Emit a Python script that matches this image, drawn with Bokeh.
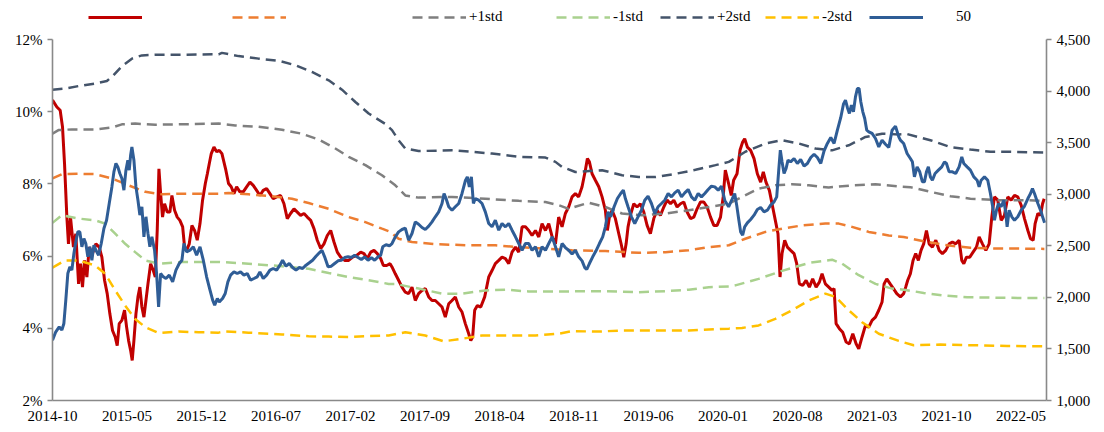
from bokeh.plotting import figure
from bokeh.layouts import column
from bokeh.models import (Range1d, LinearAxis, FixedTicker, PrintfTickFormatter,
                          NumeralTickFormatter, Legend, LegendItem)
from bokeh.embed import file_html
from bokeh.resources import INLINE

# x positions are months since 2014-10
tick_months = [0, 7, 14, 21, 28, 35, 42, 49, 56, 63, 70, 77, 84, 91]
tick_labels = ["2014-10", "2015-05", "2015-12", "2016-07", "2017-02", "2017-09", "2018-04",
               "2018-11", "2019-06", "2020-01", "2020-08", "2021-03", "2021-10", "2022-05"]

# red series (left axis, %)
red_t = [0, 0.41, 0.72, 0.94, 1.13, 1.35, 1.5, 1.69, 1.97, 2.19, 2.45, 2.63, 2.82, 3.01, 3.23, 3.45,
         3.76, 4.08, 4.39, 4.64, 4.89, 5.14, 5.39, 5.64, 5.89, 6.08, 6.27, 6.52, 6.77, 6.96, 7.15,
         7.34, 7.49, 7.65, 7.84, 8.03, 8.21, 8.4, 8.59, 8.78, 8.97, 9.22, 9.47, 9.66, 9.84, 10.0,
         10.16, 10.34, 10.53, 10.78, 11.03, 11.22, 11.47, 11.72, 11.97, 12.23, 12.41, 12.6, 12.85,
         13.1, 13.35, 13.6, 13.86, 14.1, 14.36, 14.55, 14.73, 14.92, 15.17, 15.42, 15.67, 15.92,
         16.29, 16.54, 16.79, 17.05, 17.3, 17.61, 17.92, 18.24, 18.55, 18.86, 19.18, 19.49, 19.8,
         20.12, 20.43, 20.74, 21.06, 21.43, 21.75, 22.06, 22.37, 22.69, 23.0, 23.31, 23.63, 23.94,
         24.26, 24.57, 24.88, 25.2, 25.51, 25.82, 26.14, 26.45, 26.76, 27.08, 27.45, 27.83, 28.2,
         28.58, 28.96, 29.27, 29.58, 29.9, 30.21, 30.52, 30.84, 31.09, 31.4, 31.72, 31.9, 32.21,
         32.52, 32.84, 33.15, 33.46, 33.78, 34.09, 34.4, 34.72, 35.03, 35.35, 35.66, 35.97, 36.29,
         36.6, 36.91, 37.23, 37.54, 37.85, 38.17, 38.48, 38.79, 39.11, 39.3, 39.48, 39.67, 39.92,
         40.24, 40.61, 40.99, 41.3, 41.61, 41.93, 42.24, 42.56, 42.87, 43.18, 43.5, 43.81, 44.12,
         44.44, 44.75, 45.06, 45.38, 45.69, 46.0, 46.32, 46.63, 46.95, 47.26, 47.56, 47.88, 48.19,
         48.5, 48.82, 49.13, 49.44, 49.76, 50.07, 50.26, 50.45, 50.7, 51.01, 51.33, 51.64, 51.95,
         52.14, 52.33, 52.58, 52.89, 53.21, 53.46, 53.68, 53.9, 54.08, 54.3, 54.62, 54.93, 55.24,
         55.56, 55.87, 56.18, 56.5, 56.81, 57.12, 57.44, 57.75, 58.07, 58.38, 58.69, 59.01, 59.32,
         59.63, 59.95, 60.26, 60.57, 60.89, 61.2, 61.51, 61.83, 62.14, 62.45, 62.77, 63.02, 63.22,
         63.53, 63.78, 64.0, 64.32, 64.6, 64.85, 65.04, 65.29, 65.6, 65.92, 66.23, 66.54, 66.79,
         67.04, 67.36, 67.67, 67.92, 68.17, 68.36, 68.55, 68.8, 69.05, 69.36, 69.68, 69.93, 70.18,
         70.49, 70.81, 71.12, 71.43, 71.75, 72.06, 72.31, 72.62, 72.94, 73.25, 73.44, 73.63, 73.94,
         74.25, 74.57, 74.88, 75.2, 75.51, 75.76, 76.07, 76.39, 76.7, 77.01, 77.33, 77.64, 77.95,
         78.14, 78.39, 78.71, 79.02, 79.33, 79.67, 79.98, 80.17, 80.36, 80.61, 80.86, 81.11, 81.36,
         81.61, 81.86, 82.12, 82.37, 82.68, 83.0, 83.31, 83.62, 83.93, 84.25, 84.56, 84.87, 85.19,
         85.44, 85.63, 85.88, 86.19, 86.5, 86.82, 87.07, 87.38, 87.7, 88.01, 88.26, 88.51, 88.82,
         89.14, 89.45, 89.76, 90.08, 90.39, 90.7, 91.02, 91.33, 91.65, 91.9, 92.15, 92.33, 92.59,
         92.84, 93.03, 93.18]
red_v = [10.32, 10.13, 10.04, 9.58, 8.56, 7.08, 6.34, 7.08, 6.25, 6.62, 5.23, 5.79, 5.14, 5.88, 5.42,
         6.25, 6.07, 6.34, 6.25, 5.97, 5.33, 4.96, 4.40, 3.94, 3.76, 3.52, 4.13, 4.22, 4.50, 4.04,
         3.66, 3.39, 3.11, 3.66, 4.40, 4.87, 5.14, 4.59, 4.31, 4.77, 5.23, 5.79, 5.60, 5.42, 6.71,
         8.42, 7.73, 7.08, 7.45, 7.22, 7.22, 7.68, 7.27, 7.08, 6.99, 6.81, 6.25, 6.16, 6.34, 6.85,
         6.71, 6.44, 6.90, 7.55, 8.01, 8.28, 8.56, 8.84, 9.02, 8.89, 8.93, 8.84, 8.38, 8.01, 7.92,
         7.73, 7.92, 7.78, 7.78, 7.92, 8.05, 7.96, 7.82, 7.68, 7.82, 7.87, 7.73, 7.59, 7.64, 7.68,
         7.45, 7.04, 7.18, 7.31, 7.22, 7.13, 7.18, 7.08, 6.99, 6.76, 6.44, 6.21, 6.34, 6.57, 6.71,
         6.39, 6.11, 5.97, 5.88, 5.88, 5.97, 6.02, 6.11, 6.07, 5.93, 6.11, 6.16, 6.07, 5.93, 5.74,
         5.74, 5.79, 5.70, 5.51, 5.33, 5.14, 5.00, 4.96, 5.14, 4.77, 4.96, 5.05, 5.10, 4.87, 4.77,
         4.77, 4.68, 4.59, 4.31, 4.68, 4.77, 4.87, 4.59, 4.45, 4.13, 3.85, 3.66, 3.76, 4.50, 4.63,
         4.59, 4.87, 5.42, 5.60, 5.79, 5.88, 5.97, 5.93, 5.79, 6.11, 6.25, 6.11, 6.81, 6.81, 6.71,
         6.57, 6.71, 6.53, 6.90, 6.71, 6.90, 6.53, 6.34, 7.08, 6.81, 7.18, 7.36, 7.64, 7.73, 7.64,
         7.92, 8.38, 8.70, 8.61, 8.28, 8.10, 7.92, 7.64, 7.27, 6.71, 7.08, 7.27, 7.04, 6.62, 6.30,
         5.97, 6.34, 6.81, 7.13, 7.45, 7.36, 7.45, 7.22, 6.85, 6.62, 7.04, 7.27, 7.13, 7.36, 7.55,
         7.45, 7.55, 7.36, 7.45, 7.50, 7.22, 7.04, 7.08, 7.31, 7.50, 7.50, 7.36, 7.08, 6.85, 6.85,
         7.08, 7.64, 8.38, 8.01, 7.68, 8.10, 8.28, 8.93, 9.16, 9.25, 9.02, 8.93, 8.70, 8.28, 8.05,
         8.33, 8.05, 7.82, 7.36, 6.99, 6.62, 5.42, 6.07, 6.44, 6.25, 6.16, 6.07, 5.79, 5.23, 5.19,
         5.33, 5.14, 5.37, 5.14, 5.28, 5.51, 5.23, 5.14, 5.05, 5.10, 4.13, 3.99, 3.89, 3.62, 3.57,
         3.85, 3.57, 3.43, 3.76, 4.08, 4.03, 4.22, 4.31, 4.50, 4.73, 5.23, 5.37, 5.23, 5.10, 4.96,
         4.87, 4.96, 5.14, 5.33, 5.51, 5.88, 6.07, 5.88, 6.16, 6.34, 6.71, 6.34, 6.25, 6.44, 6.16,
         6.07, 6.16, 6.34, 6.39, 6.34, 6.44, 5.88, 5.79, 5.97, 5.97, 6.11, 6.25, 6.53, 6.34, 6.16,
         6.34, 7.08, 7.64, 7.55, 6.99, 7.13, 7.64, 7.55, 7.68, 7.64, 7.41, 7.04, 6.71, 6.48, 6.44,
         6.90, 7.18, 7.13, 7.45, 7.59]

# blue series "50" (right axis, index points)
blue_t = [0, 0.31, 0.63, 0.88, 1.07, 1.25, 1.44, 1.63, 1.82, 2.01, 2.19, 2.38, 2.57, 2.76, 2.95, 3.13,
          3.32, 3.51, 3.7, 3.89, 4.08, 4.33, 4.58, 4.83, 5.08, 5.33, 5.58, 5.77, 5.96, 6.14, 6.33,
          6.52, 6.71, 6.9, 7.08, 7.21, 7.34, 7.46, 7.65, 7.84, 8.03, 8.21, 8.4, 8.59, 8.78, 8.97,
          9.15, 9.34, 9.59, 9.78, 9.97, 10.16, 10.41, 10.66, 10.97, 11.29, 11.6, 11.91, 12.16, 12.35,
          12.6, 12.92, 13.23, 13.54, 13.86, 14.17, 14.48, 14.8, 15.05, 15.24, 15.49, 15.67, 15.98,
          16.23, 16.48, 16.73, 17.05, 17.36, 17.67, 17.99, 18.3, 18.61, 18.93, 19.24, 19.49, 19.8,
          20.12, 20.43, 20.74, 21.06, 21.37, 21.62, 21.94, 22.25, 22.56, 22.88, 23.19, 23.5, 23.82,
          24.13, 24.44, 24.76, 25.07, 25.32, 25.57, 25.89, 26.2, 26.51, 26.83, 27.14, 27.45, 27.77,
          28.08, 28.39, 28.71, 29.02, 29.33, 29.65, 29.96, 30.27, 30.59, 30.84, 31.03, 31.34, 31.66,
          31.9, 32.21, 32.52, 32.84, 33.15, 33.46, 33.78, 34.09, 34.4, 34.72, 35.03, 35.35, 35.66,
          35.97, 36.29, 36.6, 36.79, 36.98, 37.23, 37.54, 37.85, 38.17, 38.48, 38.79, 38.98, 39.17,
          39.36, 39.55, 39.73, 40.05, 40.36, 40.67, 40.99, 41.3, 41.61, 41.93, 42.24, 42.56, 42.87,
          43.18, 43.5, 43.81, 44.12, 44.44, 44.75, 45.06, 45.38, 45.69, 46.0, 46.32, 46.63, 46.95,
          47.26, 47.56, 47.88, 48.19, 48.5, 48.82, 49.13, 49.44, 49.76, 50.01, 50.2, 50.45, 50.76,
          51.07, 51.39, 51.7, 51.95, 52.2, 52.45, 52.77, 53.08, 53.39, 53.64, 53.83, 54.08, 54.4,
          54.71, 55.02, 55.34, 55.65, 55.96, 56.28, 56.59, 56.9, 57.22, 57.53, 57.85, 58.16, 58.47,
          58.79, 59.1, 59.41, 59.73, 60.04, 60.35, 60.67, 60.98, 61.29, 61.61, 61.92, 62.23, 62.55,
          62.86, 63.17, 63.53, 63.85, 64.1, 64.29, 64.47, 64.66, 64.85, 65.04, 65.29, 65.6, 65.92,
          66.23, 66.54, 66.86, 67.17, 67.48, 67.8, 68.05, 68.24, 68.39, 68.55, 68.74, 68.93, 69.11,
          69.36, 69.68, 69.99, 70.3, 70.62, 70.93, 71.25, 71.56, 71.87, 72.19, 72.5, 72.81, 73.13,
          73.44, 73.75, 74.07, 74.32, 74.51, 74.69, 74.88, 75.07, 75.26, 75.45, 75.63, 75.79, 75.95,
          76.14, 76.32, 76.51, 76.7, 77.01, 77.33, 77.64, 77.95, 78.27, 78.58, 78.89, 79.21, 79.52,
          79.67, 79.98, 80.3, 80.61, 80.8, 80.99, 81.24, 81.49, 81.74, 81.93, 82.12, 82.3, 82.49,
          82.68, 82.93, 83.24, 83.56, 83.81, 84.0, 84.25, 84.56, 84.87, 85.19, 85.44, 85.63, 85.94,
          86.25, 86.57, 86.88, 87.07, 87.26, 87.57, 87.88, 88.13, 88.32, 88.51, 88.7, 88.89, 89.14,
          89.39, 89.58, 89.7, 89.89, 90.14, 90.39, 90.7, 91.02, 91.33, 91.65, 91.9, 92.08, 92.27,
          92.59, 92.9, 93.03, 93.22]
blue_v = [1585, 1666, 1714, 1682, 1747, 1973, 2231, 2296, 2264, 2425, 2538, 2635, 2635, 2490, 2570,
          2522, 2393, 2490, 2360, 2506, 2457, 2409, 2522, 2667, 2748, 2910, 3071, 3217, 3298, 3265,
          3201, 3152, 3039, 3233, 3330, 3233, 3378, 3459, 3330, 3071, 2942, 2797, 2878, 2587, 2781,
          2619, 2490, 2587, 2457, 2231, 1908, 2231, 2199, 2183, 2215, 2150, 2264, 2328, 2360, 2522,
          2441, 2457, 2490, 2409, 2490, 2360, 2199, 2070, 1973, 1924, 1989, 1956, 1989, 2037, 2150,
          2215, 2247, 2231, 2247, 2215, 2231, 2167, 2183, 2199, 2247, 2183, 2215, 2264, 2280, 2264,
          2312, 2360, 2302, 2328, 2289, 2264, 2289, 2280, 2312, 2335, 2360, 2399, 2432, 2457, 2393,
          2296, 2302, 2328, 2354, 2360, 2386, 2393, 2386, 2409, 2386, 2367, 2393, 2360, 2386, 2360,
          2393, 2409, 2490, 2510, 2500, 2522, 2587, 2635, 2658, 2671, 2554, 2619, 2732, 2709, 2677,
          2658, 2690, 2732, 2781, 2829, 2910, 3007, 2958, 2878, 2845, 2878, 2910, 3007, 3130, 3168,
          3071, 3168, 2910, 2958, 2942, 2910, 2829, 2716, 2684, 2748, 2651, 2716, 2684, 2716, 2651,
          2587, 2522, 2457, 2522, 2522, 2457, 2490, 2393, 2490, 2457, 2522, 2587, 2490, 2393, 2522,
          2483, 2457, 2419, 2457, 2393, 2354, 2289, 2270, 2328, 2393, 2451, 2522, 2587, 2684, 2829,
          2781, 2878, 2958, 3007, 3039, 2958, 2878, 2781, 2716, 2781, 2845, 2942, 2981, 2910, 2813,
          2878, 2910, 2942, 3007, 2974, 3013, 3039, 2974, 3013, 3046, 2974, 2942, 3007, 2974, 3007,
          3046, 3078, 3071, 3039, 3078, 2940, 2878, 2949, 3007, 2894, 2764, 2635, 2603, 2684, 2722,
          2755, 2797, 2852, 2871, 2829, 2845, 2894, 2926, 2974, 3233, 3427, 3314, 3201, 3249, 3330,
          3314, 3346, 3298, 3337, 3272, 3298, 3356, 3388, 3356, 3298, 3421, 3492, 3550, 3492, 3621,
          3744, 3873, 3912, 3841, 3783, 3863, 3799, 3944, 4025, 4025, 3896, 3799, 3734, 3621, 3605,
          3589, 3540, 3459, 3524, 3485, 3453, 3621, 3660, 3556, 3524, 3492, 3395, 3346, 3314, 3168,
          3265, 3217, 3120, 3120, 3217, 3265, 3168, 3136, 3201, 3233, 3265, 3314, 3298, 3217, 3217,
          3201, 3265, 3362, 3298, 3265, 3233, 3168, 3136, 3071, 3136, 3168, 3136, 3007, 2894, 2748,
          2845, 2910, 2878, 2942, 2813, 2684, 2845, 2781, 2748, 2781, 2845, 2884, 2958, 3007, 3055,
          3007, 2910, 2829, 2781, 2723]

# bands (left axis, %)
mean_t = [0, 0.88, 2.45, 4.01, 5.58, 7.15, 8.72, 10.28, 11.85, 15.61, 16.54, 18.42, 20.62, 22.5,
          24.07, 25.95, 27.83, 29.4, 30.96, 31.75, 32.52, 33.78, 35.97, 39.11, 41.61, 43.81, 46.0,
          47.57, 48.82, 51.95, 55.09, 57.6, 59.79, 61.67, 63.55, 65.1, 66.98, 68.55, 70.43, 72.62,
          73.88, 75.13, 76.7, 78.58, 79.98, 81.86, 84.06, 86.25, 88.44, 90.33, 93.2]
mean_v = [8.15, 8.27, 8.28, 8.27, 8.15, 7.96, 7.78, 7.71, 7.73, 7.73, 7.75, 7.71, 7.66, 7.59, 7.47,
          7.31, 7.08, 6.94, 6.76, 6.67, 6.48, 6.39, 6.33, 6.30, 6.30, 6.25, 6.21, 6.18, 6.16, 6.14,
          6.09, 6.11, 6.16, 6.25, 6.30, 6.48, 6.67, 6.76, 6.85, 6.90, 6.90, 6.81, 6.67, 6.57, 6.53,
          6.41, 6.30, 6.23, 6.21, 6.21, 6.20]

p1_t = [0, 0.56, 1.82, 4.01, 5.58, 6.52, 7.77, 9.66, 11.91, 15.61, 17.17, 19.37, 21.56, 23.44,
        25.01, 26.58, 27.83, 29.4, 30.96, 32.21, 33.15, 34.4, 37.54, 40.67, 43.81, 46.32, 47.57,
        48.5, 50.38, 51.95, 53.52, 55.4, 57.6, 59.79, 61.67, 63.55, 64.47, 66.35, 67.92, 69.49,
        71.06, 72.94, 75.13, 77.33, 79.52, 80.61, 82.49, 84.37, 86.25, 88.76, 91.27, 93.2]
p1_v = [9.39, 9.49, 9.51, 9.51, 9.56, 9.65, 9.67, 9.64, 9.65, 9.67, 9.62, 9.58, 9.50, 9.39, 9.23,
        8.98, 8.75, 8.52, 8.24, 7.96, 7.68, 7.62, 7.64, 7.59, 7.53, 7.50, 7.41, 7.31, 7.48, 7.36,
        7.18, 7.13, 7.18, 7.27, 7.36, 7.45, 7.59, 7.87, 7.96, 7.99, 7.96, 7.90, 7.96, 7.99, 7.93,
        7.91, 7.78, 7.66, 7.59, 7.55, 7.55, 7.53]

m1_t = [0, 0.88, 2.45, 4.01, 4.95, 5.89, 6.83, 7.77, 8.72, 9.97, 12.48, 15.61, 18.42, 21.56, 24.07,
        25.95, 27.83, 29.71, 31.59, 32.21, 34.4, 36.6, 38.48, 40.67, 42.56, 44.75, 47.57, 51.95,
        55.09, 57.6, 59.79, 61.67, 63.55, 64.16, 66.35, 68.55, 71.06, 73.25, 74.19, 75.76, 77.33,
        78.89, 79.98, 81.86, 83.75, 85.94, 88.44, 91.27, 93.2]
m1_v = [6.92, 7.13, 7.04, 6.99, 6.90, 6.62, 6.34, 6.11, 5.88, 5.79, 5.84, 5.84, 5.79, 5.72, 5.65,
        5.53, 5.42, 5.33, 5.23, 5.23, 5.10, 4.96, 4.96, 5.05, 5.07, 5.02, 5.02, 5.03, 5.00, 5.03,
        5.07, 5.14, 5.16, 5.19, 5.37, 5.59, 5.81, 5.90, 5.79, 5.47, 5.23, 5.10, 5.07, 4.98, 4.91,
        4.86, 4.85, 4.84, 4.84]

p2_t = [0, 1.19, 2.45, 4.01, 5.11, 5.74, 6.52, 7.46, 8.4, 9.97, 12.48, 15.61, 15.92, 17.48, 19.37,
        21.25, 22.81, 24.38, 25.95, 27.2, 28.46, 29.71, 31.28, 31.9, 32.52, 33.15, 34.4, 37.54,
        39.42, 41.3, 43.81, 46.32, 47.26, 47.88, 49.13, 51.64, 53.52, 55.09, 56.65, 58.54, 60.42,
        62.3, 63.55, 65.1, 66.98, 68.55, 70.12, 71.68, 73.25, 74.82, 76.39, 77.95, 79.52, 80.3,
        82.49, 84.37, 86.25, 88.13, 90.01, 93.2]
p2_v = [10.61, 10.64, 10.71, 10.78, 10.85, 11.01, 11.26, 11.47, 11.56, 11.58, 11.58, 11.59, 11.63,
        11.54, 11.47, 11.41, 11.29, 11.10, 10.87, 10.61, 10.27, 9.95, 9.66, 9.49, 9.21, 8.98, 8.91,
        8.93, 8.89, 8.84, 8.75, 8.73, 8.61, 8.47, 8.33, 8.38, 8.24, 8.19, 8.19, 8.28, 8.39, 8.52,
        8.61, 8.89, 9.12, 9.21, 9.12, 8.98, 8.93, 9.07, 9.30, 9.39, 9.37, 9.38, 9.21, 9.02, 8.95,
        8.89, 8.89, 8.87]

m2_t = [0, 1.19, 2.45, 4.01, 4.95, 5.89, 6.83, 7.77, 8.72, 9.97, 11.85, 13.73, 15.61, 16.23, 18.42,
        21.56, 24.07, 25.95, 27.83, 29.4, 31.59, 33.15, 35.03, 36.76, 38.48, 40.36, 42.56, 45.38,
        47.57, 48.82, 51.33, 53.52, 56.65, 59.79, 63.55, 64.79, 66.35, 67.92, 69.49, 71.06, 72.62,
        73.57, 74.82, 76.07, 77.64, 79.52, 80.92, 83.43, 86.57, 89.7, 93.2]
m2_v = [5.68, 5.88, 5.88, 5.74, 5.51, 5.05, 4.63, 4.26, 4.03, 3.87, 3.91, 3.89, 3.88, 3.91, 3.88,
        3.83, 3.78, 3.77, 3.76, 3.78, 3.80, 3.89, 3.80, 3.64, 3.71, 3.80, 3.80, 3.80, 3.85, 3.92,
        3.91, 3.94, 3.94, 3.94, 3.99, 4.01, 4.08, 4.26, 4.50, 4.77, 4.96, 4.87, 4.50, 4.17, 3.85,
        3.65, 3.53, 3.55, 3.53, 3.51, 3.50]

FONT = "Liberation Serif"
AXIS_COLOR = "#898989"
NB = "\u00a0"
DASH = "10 6"

styles = {
    "red": dict(line_color="#C00000", line_width=3),
    "mean": dict(line_color="#ED7D31", line_width=2.5, line_dash=DASH),
    "p1": dict(line_color="#7F7F7F", line_width=2.5, line_dash=DASH),
    "m1": dict(line_color="#A9D18E", line_width=2.5, line_dash=DASH),
    "p2": dict(line_color="#44546A", line_width=2.5, line_dash=DASH),
    "m2": dict(line_color="#FFC000", line_width=2.5, line_dash=DASH),
    "blue": dict(line_color="#2F5D96", line_width=3),
}

# ---------------- main chart ----------------
p = figure(width=1104, height=401, output_backend="svg", toolbar_location=None,
           x_range=Range1d(0, 93.4), y_range=Range1d(2, 12),
           min_border_left=52, min_border_right=58, min_border_top=8, min_border_bottom=32)
p.extra_y_ranges = {"idx": Range1d(1000, 4500)}
p.outline_line_color = None
p.xgrid.visible = False
p.ygrid.visible = False

xa = p.xaxis[0]
xa.ticker = FixedTicker(ticks=tick_months)
xa.major_label_overrides = {m: lab for m, lab in zip(tick_months, tick_labels)}
xa.major_tick_out = 0
xa.major_tick_in = 0
xa.major_label_standoff = 10

ya = p.yaxis[0]
ya.ticker = FixedTicker(ticks=[2, 4, 6, 8, 10, 12])
ya.formatter = PrintfTickFormatter(format="%d%%")

yr = LinearAxis(y_range_name="idx",
                ticker=FixedTicker(ticks=[1000, 1500, 2000, 2500, 3000, 3500, 4000, 4500]),
                formatter=NumeralTickFormatter(format="0,0"))
p.add_layout(yr, "right")

for ax in (xa, ya, yr):
    ax.axis_line_color = AXIS_COLOR
    ax.axis_line_width = 1.6
    ax.major_tick_line_color = AXIS_COLOR
    ax.major_tick_line_width = 1.3
    ax.minor_tick_out = 0
    ax.minor_tick_in = 0
    ax.major_label_text_font = FONT
    ax.major_label_text_font_size = "15px"
    ax.major_label_text_color = "black"
for ax in (ya, yr):
    ax.major_tick_out = 5
    ax.major_tick_in = 0
    ax.major_label_standoff = 5

p.line(red_t, red_v, **styles["red"])
p.line(mean_t, mean_v, **styles["mean"])
p.line(p1_t, p1_v, **styles["p1"])
p.line(m1_t, m1_v, **styles["m1"])
p.line(p2_t, p2_v, **styles["p2"])
p.line(m2_t, m2_v, **styles["m2"])
p.line(blue_t, blue_v, y_range_name="idx", **styles["blue"])

# ---------------- legend strip (frame aligned with the main frame, left edge at x=52) ----------------
lf = figure(width=1104, height=31, output_backend="svg", toolbar_location=None,
            x_range=Range1d(0, 1104), y_range=Range1d(0, 31),
            x_axis_type=None, y_axis_type=None,
            min_border_left=0, min_border_right=0, min_border_top=0, min_border_bottom=0)
lf.outline_line_color = None
lf.xgrid.visible = False
lf.ygrid.visible = False

legend_entries = [
    ("red", "", 36),
    ("mean", "", 180),
    ("p1", "+1std", 360),
    ("m1", "-1std", 504),
    ("p2", "+2std", 608),
    ("m2", "-2std", 713),
    ("blue", NB * 8 + "50", 817),
]
for key, lab, xpos in legend_entries:
    r = lf.line([-20, -10], [-20, -10], **styles[key])
    leg = Legend(items=[LegendItem(label=lab if lab else NB, renderers=[r])],
                 location=(xpos, 6), orientation="horizontal",
                 padding=0, margin=0, spacing=0,
                 border_line_alpha=0, background_fill_alpha=0,
                 glyph_width=54, glyph_height=16, label_height=16, label_standoff=3,
                 label_text_font=FONT, label_text_font_size="15px", label_text_color="black")
    lf.add_layout(leg)

layout = column(lf, p, spacing=0)
open("out.html", "w").write(file_html(layout, INLINE))
